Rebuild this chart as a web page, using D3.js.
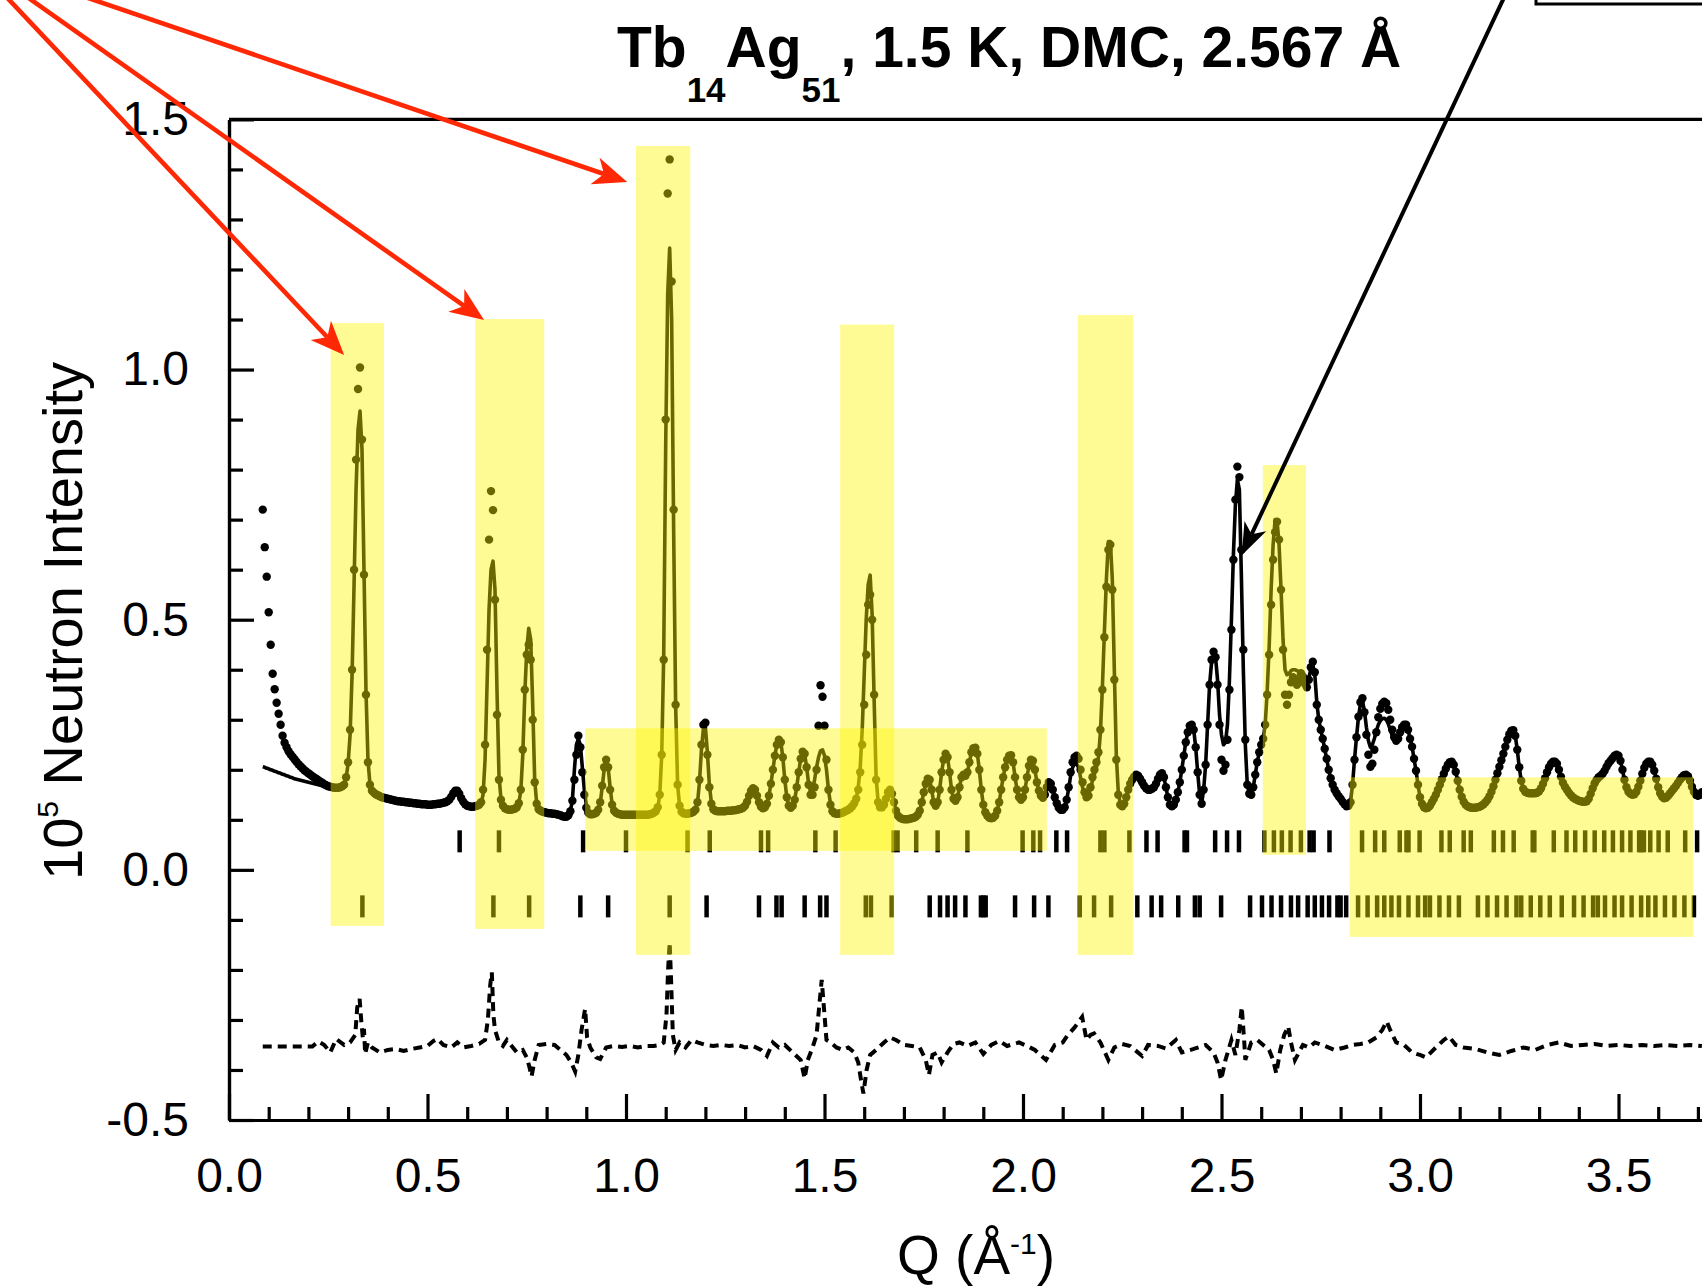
<!DOCTYPE html>
<html>
<head>
<meta charset="utf-8">
<script src="https://cdn.jsdelivr.net/npm/d3@7/dist/d3.min.js"></script>
<style>
body { margin: 0; background: #fff; }
svg { display: block; }
</style>
</head>
<body>
<script>
var width = 1702;
var height = 1288;

// intensities in 10^5 counts, on a regular Q grid
var q_start = 0.085;
var q_step = 0.005;

var obs = [
  .720,.645,.586,.515,.450,.392,.361,.334,.312,.290,.268,.254,.245,.237,.231,.226,.221,.216,.211,.207, // 0.085
  .203,.199,.196,.193,.190,.187,.184,.182,.179,.176,.174,.171,.169,.167,.166,.165,.164,.164,.164,.165, // 0.185
  .167,.170,.185,.215,.280,.400,.600,.820,.961,1.004,.860,.590,.350,.215,.170,.158,.154,.151,.149,.147, // 0.285
  .145,.144,.143,.142,.141,.140,.139,.138,.137,.137,.136,.136,.135,.135,.134,.134,.133,.133,.132,.132, // 0.385
  .131,.131,.131,.130,.130,.130,.131,.131,.132,.132,.133,.134,.135,.137,.140,.146,.153,.158,.158,.152, // 0.485
  .143,.136,.131,.128,.127,.126,.126,.127,.128,.130,.135,.160,.250,.440,.660,.757,.719,.540,.310,.180, // 0.585
  .140,.128,.123,.121,.120,.120,.121,.122,.125,.133,.160,.240,.360,.430,.450,.420,.300,.175,.132,.121, // 0.685
  .118,.116,.115,.114,.113,.113,.112,.112,.111,.110,.109,.107,.106,.106,.109,.117,.138,.180,.230,.268, // 0.785
  .245,.195,.150,.124,.114,.111,.111,.112,.114,.120,.135,.168,.205,.220,.205,.160,.130,.118,.114,.112, // 0.885
  .111,.110,.110,.110,.110,.110,.110,.110,.110,.110,.110,.110,.110,.110,.110,.111,.112,.114,.117,.125, // 0.985
  .150,.230,.420,.900,1.352,1.420,1.176,.720,.330,.170,.128,.116,.113,.112,.112,.113,.114,.116,.120,.135, // 1.085
  .180,.250,.290,.294,.230,.165,.132,.121,.118,.117,.117,.117,.117,.117,.118,.118,.118,.119,.119,.120, // 1.185
  .121,.122,.124,.128,.136,.148,.158,.163,.160,.148,.135,.126,.123,.125,.132,.148,.172,.200,.228,.250, // 1.285
  .260,.255,.225,.180,.145,.128,.124,.128,.140,.165,.195,.222,.236,.232,.205,.170,.150,.150,.165,.200, // 1.385
  .288,.369,.346,.288,.220,.160,.130,.117,.113,.112,.112,.113,.114,.116,.118,.120,.123,.127,.133,.142, // 1.485
  .160,.195,.250,.330,.430,.530,.550,.500,.350,.180,.135,.125,.125,.130,.142,.155,.160,.152,.135,.118, // 1.585
  .108,.104,.102,.101,.101,.101,.102,.103,.104,.106,.110,.118,.135,.155,.172,.182,.180,.160,.135,.128, // 1.685
  .135,.160,.195,.220,.232,.225,.195,.160,.142,.138,.145,.165,.185,.190,.188,.195,.215,.235,.243,.244, // 1.785
  .232,.200,.160,.130,.115,.108,.104,.103,.104,.108,.118,.135,.160,.185,.205,.220,.228,.229,.215,.185, // 1.885
  .160,.145,.140,.145,.160,.185,.208,.220,.218,.200,.175,.158,.148,.144,.150,.165,.175,.172,.160,.145, // 1.985
  .133,.124,.120,.120,.125,.140,.165,.195,.215,.225,.228,.222,.200,.175,.155,.145,.148,.165,.185,.200, // 2.085
  .215,.235,.280,.360,.465,.566,.640,.650,.560,.380,.220,.150,.130,.127,.132,.145,.160,.172,.180,.186, // 2.185
  .190,.188,.182,.175,.168,.163,.160,.160,.162,.165,.172,.182,.190,.193,.185,.165,.145,.130,.127,.130, // 2.285
  .140,.155,.175,.200,.228,.255,.275,.288,.290,.280,.245,.195,.150,.132,.160,.210,.290,.370,.420,.436, // 2.385
  .425,.370,.290,.220,.198,.210,.260,.360,.480,.620,.740,.806,.785,.640,.440,.260,.170,.152,.150,.165, // 2.485
  .190,.215,.235,.250,.262,.290,.350,.430,.530,.620,.675,.696,.660,.560,.440,.350,.330,.350,.375,.385, // 2.585
  .380,.370,.378,.390,.385,.372,.365,.380,.405,.416,.395,.330,.300,.280,.262,.242,.222,.200,.183,.170, // 2.685
  .160,.153,.147,.142,.136,.131,.127,.128,.135,.170,.220,.265,.306,.335,.343,.315,.270,.230,.206,.212, // 2.785
  .240,.275,.305,.322,.332,.336,.333,.320,.300,.280,.265,.258,.262,.275,.285,.290,.290,.280,.262,.246, // 2.885
  .222,.198,.170,.145,.132,.125,.123,.124,.128,.135,.142,.150,.160,.170,.181,.192,.202,.210,.215,.216, // 2.985
  .210,.196,.178,.160,.146,.136,.130,.127,.125,.124,.124,.124,.125,.126,.128,.131,.135,.140,.147,.156, // 3.085
  .167,.180,.193,.206,.219,.232,.246,.260,.271,.278,.279,.268,.240,.205,.178,.162,.156,.154,.153,.153, // 3.185
  .153,.153,.154,.157,.163,.172,.183,.195,.205,.212,.216,.216,.212,.200,.186,.174,.166,.160,.154,.149, // 3.285
  .145,.142,.140,.138,.137,.136,.136,.137,.142,.152,.163,.173,.180,.185,.188,.192,.198,.206,.213,.218, // 3.385
  .223,.228,.230,.228,.218,.200,.180,.165,.156,.152,.150,.151,.156,.166,.178,.192,.204,.212,.216,.216, // 3.485
  .210,.198,.182,.165,.153,.146,.143,.144,.148,.153,.158,.163,.168,.174,.180,.185,.189,.190,.187,.178, // 3.585
  .166,.156,.150,.148,.150,.155                                                                        // 3.685
];

var calc = [
  .206,.205,.203,.202,.200,.199,.197,.196,.194,.193,.191,.190,.188,.187,.185,.184,.182,.181,.180,.179,
  .178,.177,.176,.175,.174,.173,.172,.171,.170,.169,.168,.167,.166,.166,.165,.165,.164,.164,.164,.165,
  .167,.170,.183,.212,.270,.390,.570,.760,.880,.917,.840,.600,.360,.220,.172,.158,.154,.151,.149,.147,
  .145,.144,.143,.142,.141,.140,.139,.138,.137,.137,.136,.136,.135,.135,.134,.134,.133,.133,.132,.132,
  .131,.131,.131,.130,.130,.130,.131,.131,.132,.132,.133,.134,.135,.137,.139,.144,.150,.153,.153,.148,
  .141,.136,.131,.128,.127,.126,.126,.127,.128,.130,.134,.150,.220,.370,.520,.600,.617,.560,.360,.190,
  .142,.128,.123,.121,.120,.120,.121,.122,.125,.133,.158,.230,.350,.440,.483,.460,.330,.180,.133,.121,
  .118,.116,.115,.114,.113,.113,.112,.112,.111,.110,.109,.107,.106,.106,.109,.117,.140,.200,.250,.262,
  .250,.205,.160,.130,.117,.111,.111,.112,.114,.120,.133,.165,.200,.218,.205,.165,.132,.118,.114,.112,
  .111,.110,.110,.110,.110,.110,.110,.110,.110,.110,.110,.110,.110,.110,.110,.111,.112,.114,.117,.124,
  .150,.230,.430,.850,1.150,1.243,1.100,.680,.330,.170,.128,.116,.113,.112,.112,.113,.114,.116,.120,.133,
  .175,.240,.282,.285,.235,.170,.134,.121,.118,.117,.117,.117,.117,.117,.118,.118,.118,.119,.119,.120,
  .121,.122,.124,.128,.136,.148,.158,.163,.160,.148,.135,.126,.123,.125,.132,.148,.172,.200,.228,.250,
  .258,.255,.225,.180,.145,.128,.124,.128,.140,.165,.195,.222,.236,.232,.205,.172,.155,.160,.180,.205,
  .225,.238,.240,.228,.200,.160,.132,.118,.113,.112,.112,.113,.114,.116,.118,.120,.123,.127,.133,.142,
  .165,.205,.280,.390,.500,.570,.589,.510,.340,.185,.137,.125,.125,.130,.142,.155,.160,.152,.135,.118,
  .108,.104,.102,.101,.101,.101,.102,.103,.104,.106,.110,.118,.135,.155,.172,.182,.180,.160,.135,.128,
  .135,.160,.195,.220,.232,.225,.195,.160,.142,.138,.145,.165,.185,.190,.188,.195,.215,.235,.243,.244,
  .232,.200,.160,.130,.115,.108,.104,.103,.104,.108,.118,.135,.160,.185,.205,.220,.228,.229,.215,.185,
  .160,.145,.140,.145,.160,.185,.208,.220,.218,.200,.175,.158,.148,.144,.150,.165,.175,.172,.160,.145,
  .133,.124,.120,.120,.125,.140,.162,.188,.205,.212,.212,.205,.185,.165,.152,.146,.150,.162,.178,.192,
  .205,.225,.275,.365,.475,.580,.656,.656,.580,.400,.230,.155,.132,.127,.132,.145,.160,.172,.180,.186,
  .190,.188,.182,.175,.168,.163,.160,.160,.162,.165,.172,.182,.190,.193,.185,.165,.145,.130,.127,.130,
  .140,.155,.175,.200,.228,.255,.275,.288,.290,.280,.245,.195,.150,.132,.160,.210,.290,.370,.415,.430,
  .425,.380,.310,.270,.250,.255,.290,.380,.500,.630,.730,.780,.760,.590,.400,.250,.170,.152,.150,.165,
  .190,.215,.235,.250,.262,.290,.355,.445,.560,.650,.700,.697,.650,.560,.460,.400,.390,.392,.398,.400,
  .400,.398,.396,.398,.396,.388,.380,.385,.400,.410,.390,.335,.300,.280,.262,.242,.222,.200,.183,.170,
  .160,.153,.147,.142,.136,.131,.127,.128,.135,.170,.220,.265,.305,.332,.338,.318,.285,.258,.245,.250,
  .262,.278,.290,.298,.302,.303,.300,.292,.280,.268,.260,.258,.262,.275,.285,.290,.290,.280,.262,.246,
  .222,.198,.170,.145,.132,.125,.123,.124,.128,.135,.142,.150,.160,.170,.181,.192,.202,.210,.215,.216,
  .210,.196,.178,.160,.146,.136,.130,.127,.125,.124,.124,.124,.125,.126,.128,.131,.135,.140,.147,.156,
  .167,.180,.193,.206,.219,.232,.246,.260,.271,.278,.279,.268,.240,.205,.178,.162,.156,.154,.153,.153,
  .153,.153,.154,.157,.163,.172,.183,.195,.205,.212,.216,.216,.212,.200,.186,.174,.166,.160,.154,.149,
  .145,.142,.140,.138,.137,.136,.136,.137,.142,.152,.163,.173,.180,.185,.188,.192,.198,.206,.213,.218,
  .223,.228,.230,.228,.218,.200,.180,.165,.156,.152,.150,.151,.156,.166,.178,.192,.204,.212,.216,.216,
  .210,.198,.182,.165,.153,.146,.143,.144,.148,.153,.158,.163,.168,.174,.180,.185,.189,.190,.187,.178,
  .166,.156,.150,.148,.150,.155
];

// difference curve (obs - calc, shifted), [Q, value]
var diff = [
  [0.085,-0.353],[0.210,-0.353],[0.225,-0.343],[0.240,-0.350],[0.255,-0.365],[0.270,-0.338],[0.290,-0.350],
  [0.305,-0.345],[0.318,-0.330],[0.323,-0.275],[0.329,-0.258],[0.333,-0.300],[0.337,-0.335],[0.340,-0.318],
  [0.343,-0.368],[0.350,-0.345],[0.360,-0.355],[0.380,-0.365],[0.400,-0.360],[0.420,-0.358],[0.440,-0.362],
  [0.460,-0.358],[0.480,-0.355],[0.500,-0.352],[0.515,-0.342],[0.525,-0.338],[0.540,-0.350],[0.560,-0.355],
  [0.575,-0.345],[0.590,-0.355],[0.610,-0.352],[0.630,-0.348],[0.645,-0.340],[0.652,-0.300],[0.658,-0.230],
  [0.662,-0.205],[0.666,-0.290],[0.670,-0.320],[0.680,-0.345],[0.690,-0.352],[0.700,-0.340],[0.712,-0.352],
  [0.725,-0.365],[0.740,-0.360],[0.750,-0.375],[0.757,-0.395],[0.762,-0.413],[0.770,-0.380],[0.780,-0.350],
  [0.800,-0.348],[0.820,-0.350],[0.835,-0.360],[0.850,-0.370],[0.862,-0.385],[0.872,-0.403],[0.880,-0.370],
  [0.888,-0.320],[0.897,-0.278],[0.902,-0.335],[0.910,-0.355],[0.925,-0.375],[0.935,-0.378],[0.950,-0.355],
  [0.970,-0.352],[0.990,-0.354],[1.010,-0.352],[1.030,-0.355],[1.050,-0.352],[1.070,-0.352],[1.085,-0.350],
  [1.095,-0.345],[1.102,-0.290],[1.106,-0.200],[1.110,-0.145],[1.114,-0.230],[1.118,-0.330],[1.125,-0.360],
  [1.135,-0.345],[1.150,-0.355],[1.165,-0.340],[1.180,-0.345],[1.200,-0.350],[1.220,-0.352],[1.240,-0.350],
  [1.260,-0.352],[1.280,-0.350],[1.300,-0.355],[1.320,-0.352],[1.340,-0.360],[1.355,-0.372],[1.370,-0.345],
  [1.385,-0.355],[1.400,-0.350],[1.420,-0.365],[1.440,-0.380],[1.450,-0.417],[1.458,-0.380],[1.470,-0.355],
  [1.480,-0.330],[1.487,-0.270],[1.493,-0.220],[1.498,-0.270],[1.505,-0.340],[1.515,-0.345],[1.530,-0.355],
  [1.545,-0.360],[1.560,-0.355],[1.575,-0.365],[1.585,-0.385],[1.592,-0.420],[1.598,-0.447],[1.606,-0.400],
  [1.615,-0.370],[1.630,-0.360],[1.650,-0.345],[1.665,-0.335],[1.680,-0.340],[1.700,-0.350],[1.720,-0.352],
  [1.740,-0.355],[1.755,-0.380],[1.763,-0.410],[1.772,-0.370],[1.785,-0.365],[1.795,-0.385],[1.810,-0.365],
  [1.825,-0.348],[1.840,-0.345],[1.860,-0.352],[1.880,-0.345],[1.900,-0.368],[1.920,-0.350],[1.940,-0.342],
  [1.960,-0.352],[1.990,-0.345],[2.010,-0.352],[2.030,-0.360],[2.058,-0.380],[2.080,-0.350],[2.100,-0.345],
  [2.113,-0.330],[2.130,-0.315],[2.149,-0.294],[2.160,-0.340],[2.170,-0.330],[2.179,-0.327],[2.195,-0.345],
  [2.215,-0.380],[2.230,-0.355],[2.250,-0.348],[2.270,-0.352],[2.300,-0.372],[2.315,-0.350],[2.340,-0.352],
  [2.360,-0.357],[2.385,-0.340],[2.400,-0.365],[2.430,-0.358],[2.460,-0.350],[2.480,-0.365],[2.490,-0.385],
  [2.499,-0.420],[2.510,-0.380],[2.525,-0.340],[2.535,-0.370],[2.545,-0.320],[2.551,-0.274],[2.557,-0.340],
  [2.560,-0.380],[2.575,-0.345],[2.590,-0.340],[2.605,-0.350],[2.620,-0.360],[2.630,-0.380],[2.638,-0.407],
  [2.648,-0.360],[2.658,-0.330],[2.668,-0.313],[2.675,-0.345],[2.685,-0.380],[2.695,-0.365],[2.705,-0.350],
  [2.720,-0.355],[2.735,-0.345],[2.760,-0.352],[2.785,-0.360],[2.810,-0.355],[2.830,-0.350],[2.850,-0.348],
  [2.870,-0.345],[2.890,-0.335],[2.905,-0.320],[2.916,-0.303],[2.925,-0.320],[2.940,-0.345],[2.960,-0.350],
  [2.980,-0.365],[3.000,-0.370],[3.015,-0.375],[3.040,-0.355],[3.060,-0.340],[3.073,-0.333],[3.090,-0.350],
  [3.110,-0.355],[3.140,-0.358],[3.170,-0.365],[3.200,-0.370],[3.230,-0.362],[3.260,-0.355],[3.290,-0.360],
  [3.320,-0.350],[3.350,-0.345],[3.380,-0.352],[3.410,-0.350],[3.440,-0.348],[3.470,-0.352],[3.500,-0.350],
  [3.530,-0.352],[3.560,-0.350],[3.590,-0.352],[3.620,-0.350],[3.650,-0.352],[3.680,-0.350],[3.710,-0.352]
];

// Bragg reflection positions (Q), upper and lower row
var bragg_top = [0.581, 0.680, 0.892, 1.000, 1.155, 1.211, 1.340, 1.358, 1.477, 1.528, 1.674, 1.684, 1.731, 1.785,
  1.860, 1.999, 2.026, 2.043, 2.084, 2.111, 2.195, 2.205, 2.268, 2.311, 2.339, 2.407, 2.413, 2.484, 2.514, 2.544,
  2.608, 2.632, 2.652, 2.674, 2.700, 2.722, 2.732, 2.772, 2.854, 2.887, 2.910, 2.949, 2.966, 2.971, 2.999, 3.054,
  3.075, 3.110, 3.128, 3.186, 3.209, 3.236, 3.284, 3.288, 3.337, 3.369, 3.391, 3.416, 3.440, 3.464, 3.486, 3.509,
  3.530, 3.552, 3.557, 3.564, 3.580, 3.601, 3.624, 3.668, 3.698];
var bragg_bot = [0.336, 0.666, 0.756, 0.885, 0.955, 1.110, 1.203, 1.335, 1.379, 1.392, 1.450, 1.489, 1.505, 1.604,
  1.617, 1.669, 1.765, 1.791, 1.810, 1.829, 1.855, 1.894, 1.900, 1.906, 1.980, 2.028, 2.064, 2.143, 2.179, 2.222,
  2.288, 2.324, 2.348, 2.391, 2.433, 2.445, 2.499, 2.572, 2.602, 2.626, 2.650, 2.675, 2.693, 2.717, 2.735, 2.753,
  2.771, 2.792, 2.800, 2.814, 2.844, 2.868, 2.892, 2.910, 2.928, 2.947, 2.971, 2.995, 3.013, 3.025, 3.049, 3.073,
  3.098, 3.146, 3.170, 3.194, 3.218, 3.243, 3.255, 3.279, 3.303, 3.327, 3.357, 3.388, 3.412, 3.436, 3.448, 3.466,
  3.490, 3.509, 3.533, 3.557, 3.575, 3.593, 3.617, 3.641, 3.666, 3.690];

var x_major = [0, 0.5, 1.0, 1.5, 2.0, 2.5, 3.0, 3.5];
var y_major = [-0.5, 0, 0.5, 1.0, 1.5];

// highlighted regions: [Q from, Q to, intensity bottom, intensity top]
var highlights = [
  [0.256, 0.3905, -0.112, 1.093],
  [0.620, 0.794, -0.118, 1.101],
  [1.025, 1.162, -0.170, 1.447],
  [0.897, 2.060, 0.038, 0.283],
  [1.5395, 1.6755, -0.170, 1.090],
  [2.138, 2.277, -0.170, 1.109],
  [2.604, 2.713, 0.030, 0.809],
  [2.8227, 3.6877, -0.134, 0.185]
];

var font = "'Liberation Sans', Arial, Helvetica, sans-serif";

var svg = d3.select("body")
    .append("svg")
    .attr("width", width)
    .attr("height", height);

svg.append("rect").attr("width", width).attr("height", height).attr("fill", "#fff");

var x = d3.scaleLinear().domain([0, 4]).range([229, 1817]);
var y = d3.scaleLinear().domain([-0.5, 1.5]).range([1120, 119.4]);

var pts = obs.map(function(v, i) { return { q: q_start + i * q_step, o: v, c: calc[i] }; });

// bragg ticks
function braggRow(list, lo, hi) {
    svg.append("g").selectAll("line")
        .data(list)
        .enter()
        .append("line")
        .attr("x1", function(d) { return x(d); })
        .attr("x2", function(d) { return x(d); })
        .attr("y1", y(hi))
        .attr("y2", y(lo))
        .attr("stroke", "#000")
        .attr("stroke-width", 4.5);
}
braggRow(bragg_top, 0.035, 0.079);
braggRow(bragg_bot, -0.095, -0.051);

// difference
svg.append("path")
    .datum(diff)
    .attr("d", d3.line().x(function(d) { return x(d[0]); }).y(function(d) { return y(d[1]); }))
    .attr("fill", "none")
    .attr("stroke", "#000")
    .attr("stroke-width", 4)
    .attr("stroke-dasharray", "9,6");

// calculated
svg.append("path")
    .datum(pts)
    .attr("d", d3.line().x(function(d) { return x(d.q); }).y(function(d) { return y(d.c); }))
    .attr("fill", "none")
    .attr("stroke", "#000")
    .attr("stroke-width", 3.6)
    .attr("stroke-linejoin", "round");

// observed
svg.append("g").selectAll("circle")
    .data(pts)
    .enter()
    .append("circle")
    .attr("cx", function(d) { return x(d.q); })
    .attr("cy", function(d) { return y(d.o); })
    .attr("r", 4.2)
    .attr("fill", "#000");

// axes
var y_minor = d3.range(-5, 16).map(function(i) { return i / 10; }).filter(function(v) { return Math.round(v * 10) % 5 != 0; });
var x_minor = d3.range(0, 40).map(function(i) { return i / 10; }).filter(function(v) { return Math.round(v * 10) % 5 != 0; });

function styleAxis(g) {
    g.selectAll("path, line").attr("stroke", "#000").attr("stroke-width", 3.2);
    g.selectAll("text").attr("font-family", font).attr("font-size", 48).attr("fill", "#000");
}

svg.append("g")
    .attr("transform", "translate(229,0)")
    .call(d3.axisLeft(y).tickValues(y_minor).tickSize(-14).tickSizeOuter(0).tickFormat(""))
    .call(styleAxis);
svg.append("g")
    .attr("transform", "translate(229,0)")
    .call(d3.axisLeft(y).tickValues(y_major).tickSize(-25).tickSizeOuter(0).tickPadding(40)
        .tickFormat(function(d) { return d.toFixed(1); }))
    .call(styleAxis);

svg.append("g")
    .attr("transform", "translate(0,1120)")
    .call(d3.axisBottom(x).tickValues(x_minor).tickSize(-13).tickSizeOuter(0).tickFormat(""))
    .call(styleAxis);
svg.append("g")
    .attr("transform", "translate(0,1120)")
    .call(d3.axisBottom(x).tickValues(x_major).tickSize(-26).tickSizeOuter(0).tickPadding(38)
        .tickFormat(function(d) { return d.toFixed(1); }))
    .call(styleAxis);

svg.append("line")
    .attr("x1", 229).attr("x2", 1817)
    .attr("y1", y(1.5)).attr("y2", y(1.5))
    .attr("stroke", "#000").attr("stroke-width", 3.2);

// highlighted regions
svg.append("g").selectAll("rect")
    .data(highlights)
    .enter()
    .append("rect")
    .attr("x", function(d) { return x(d[0]); })
    .attr("width", function(d) { return x(d[1]) - x(d[0]); })
    .attr("y", function(d) { return y(d[3]); })
    .attr("height", function(d) { return y(d[2]) - y(d[3]); })
    .attr("fill", "rgb(255,245,0)")
    .attr("fill-opacity", 0.42);

// arrows
function arrow(x1, y1, x2, y2, color, lw, len, wid) {
    var dx = x2 - x1, dy = y2 - y1, dd = Math.sqrt(dx * dx + dy * dy);
    var ux = dx / dd, uy = dy / dd, nx = -uy, ny = ux;
    var bx = x2 - ux * len, by = y2 - uy * len;
    var mx = x2 - ux * len * 0.72, my = y2 - uy * len * 0.72;
    svg.append("line")
        .attr("x1", x1).attr("y1", y1).attr("x2", mx).attr("y2", my)
        .attr("stroke", color).attr("stroke-width", lw);
    svg.append("path")
        .attr("d", "M" + x2 + "," + y2 +
            "L" + (bx + nx * wid / 2) + "," + (by + ny * wid / 2) +
            "L" + mx + "," + my +
            "L" + (bx - nx * wid / 2) + "," + (by - ny * wid / 2) + "Z")
        .attr("fill", color);
}
var red = "rgb(255,40,5)";
arrow(-19, -30, x(0.290), y(1.029), red, 4.6, 34, 28);
arrow(-11, -30, x(0.6425), y(1.099), red, 4.6, 34, 28);
arrow(6, -30, x(1.003), y(1.375), red, 4.6, 34, 28);
arrow(1517, -30, x(2.551), y(0.629), "#000", 4, 32, 24);

// inset frame corner at top right
svg.append("path")
    .attr("d", "M1536,-10V4H1720")
    .attr("fill", "none")
    .attr("stroke", "#000")
    .attr("stroke-width", 3);

// title
var title = svg.append("text")
    .attr("x", 617)
    .attr("y", 67)
    .attr("font-family", font)
    .attr("font-weight", "bold")
    .attr("font-size", 57)
    .attr("fill", "#000");
title.append("tspan").text("Tb");
title.append("tspan").attr("dy", 35).attr("font-size", 35).text("14");
title.append("tspan").attr("dy", -35).text("Ag");
title.append("tspan").attr("dy", 35).attr("font-size", 35).text("51");
title.append("tspan").attr("dy", -35).text(", 1.5 K, DMC, 2.567 \u00c5");

// axis titles
var xt = svg.append("text")
    .attr("x", 897)
    .attr("y", 1274)
    .attr("font-family", font)
    .attr("font-size", 55)
    .attr("fill", "#000");
xt.append("tspan").text("Q (\u00c5");
xt.append("tspan").attr("dy", -20).attr("font-size", 30).text("-1");
xt.append("tspan").attr("dy", 20).text(")");

var yt = svg.append("text")
    .attr("transform", "translate(82,621) rotate(-90)")
    .attr("text-anchor", "middle")
    .attr("font-family", font)
    .attr("font-size", 56)
    .attr("fill", "#000");
yt.append("tspan").text("10");
yt.append("tspan").attr("dy", -24).attr("font-size", 30).text("5");
yt.append("tspan").attr("dy", 24).text(" Neutron Intensity");
</script>
</body>
</html>
